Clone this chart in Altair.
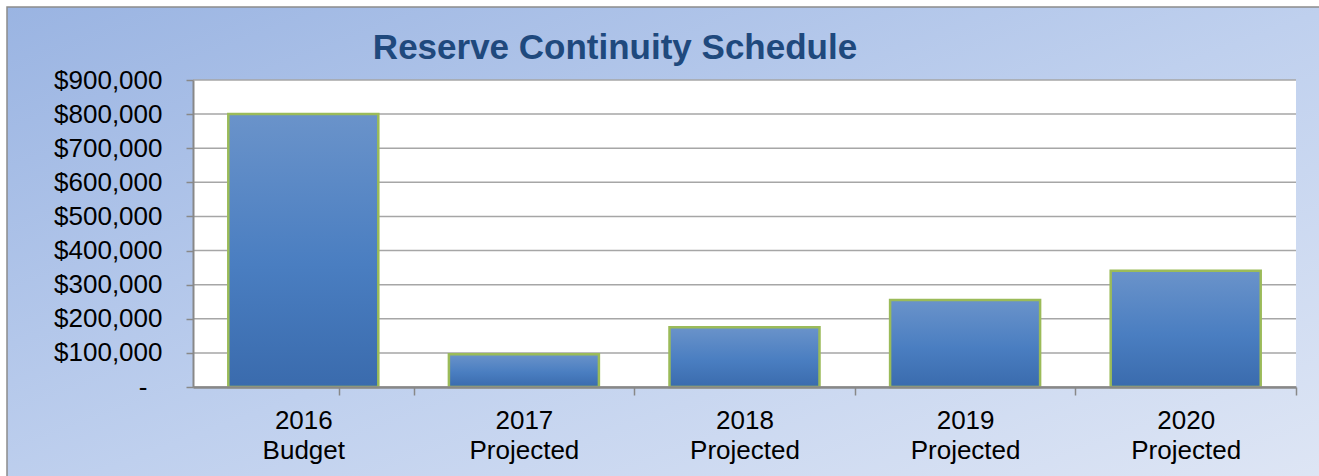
import altair as alt
import pandas as pd

categories = ["2016\nBudget", "2017\nProjected", "2018\nProjected", "2019\nProjected", "2020\nProjected"]
values = [800000, 96000, 175000, 255000, 341000]
y_ticks = [0, 100000, 200000, 300000, 400000, 500000, 600000, 700000, 800000, 900000]
title_text = "Reserve Continuity Schedule"

W, H = 1103, 307
STEP = W / 5
PAD = {"left": 193, "top": 80, "right": 23, "bottom": 89}
FONT = "Liberation Sans"

df = pd.DataFrame({"cat": categories, "value": values})
grid_df = pd.DataFrame({"g": y_ticks})
one = pd.DataFrame({"t": [title_text]})

bg = alt.Chart(one).mark_rect(
    fill=alt.LinearGradient(
        gradient="linear",
        stops=[alt.GradientStop(color="#9AB4E2", offset=0),
               alt.GradientStop(color="#BFD0EE", offset=0.5),
               alt.GradientStop(color="#E0E7F5", offset=1)],
        x1=0, y1=0, x2=1, y2=1),
    stroke="#8C8C8C", strokeWidth=1.5,
).encode(x=alt.value(-186), x2=alt.value(W + 40), y=alt.value(-73), y2=alt.value(H + 120))

plot_bg = alt.Chart(one).mark_rect(fill="white").encode(
    x=alt.value(0), x2=alt.value(W), y=alt.value(0), y2=alt.value(H))

yscale = alt.Scale(domain=[0, 900000], nice=False, zero=True)
yaxis = alt.Axis(zindex=1, values=y_ticks, grid=False,
                 labelExpr="datum.value == 0 ? '-' : '$' + format(datum.value, ',')",
                 labelFont=FONT, labelFontSize=26, labelColor="#000000",
                 labelPadding={"condition": {"test": "datum.value == 0", "value": 39}, "value": 24},
                 tickSize=7, tickColor="#888888", tickWidth=1.5,
                 domainColor="#888888", domainWidth=2)

grid = alt.Chart(grid_df).mark_rule(color="#A6A6A6", strokeWidth=1.5).encode(
    y=alt.Y("g:Q", scale=yscale, axis=yaxis, title=None),
)

bars = alt.Chart(df).mark_bar(
    fill=alt.LinearGradient(
        gradient="linear",
        stops=[alt.GradientStop(color="#6A93CA", offset=0),
               alt.GradientStop(color="#4A7EC1", offset=0.55),
               alt.GradientStop(color="#3A6BAD", offset=1)],
        x1=0, y1=0, x2=0, y2=1),
    stroke="#9BBB59", strokeWidth=2.5,
).encode(
    x=alt.X("cat:N", sort=None, title=None,
            scale=alt.Scale(paddingInner=0.32, paddingOuter=0.16),
            axis=alt.Axis(zindex=1, labelAngle=0, labelExpr="split(datum.label, '\\n')",
                          labelFont=FONT, labelFontSize=26, labelColor="#000000",
                          labelLineHeight=30, labelPadding=12, labelBaseline="top",
                          tickOffset=STEP / 2, labelOffset=-STEP / 2, tickExtra=True,
                          tickSize=8, tickColor="#888888", tickWidth=1.5,
                          domainColor="#888888", domainWidth=2.5, grid=False)),
    y=alt.Y("value:Q", scale=yscale, title=None, axis=yaxis),
)

title = alt.Chart(one).mark_text(
    font=FONT, fontSize=35, fontWeight="bold", color="#1F497D",
    align="center", baseline="alphabetic",
).encode(text="t:N", x=alt.value(422), y=alt.value(-21))

chart = alt.layer(bg, plot_bg, grid, bars, title).properties(
    width=W, height=H,
    autosize=alt.AutoSizeParams(type="none"),
    padding=PAD,
).configure_view(stroke=None).configure(background="white")

chart.save("out.html", embed_options={"renderer": "svg", "actions": False})
